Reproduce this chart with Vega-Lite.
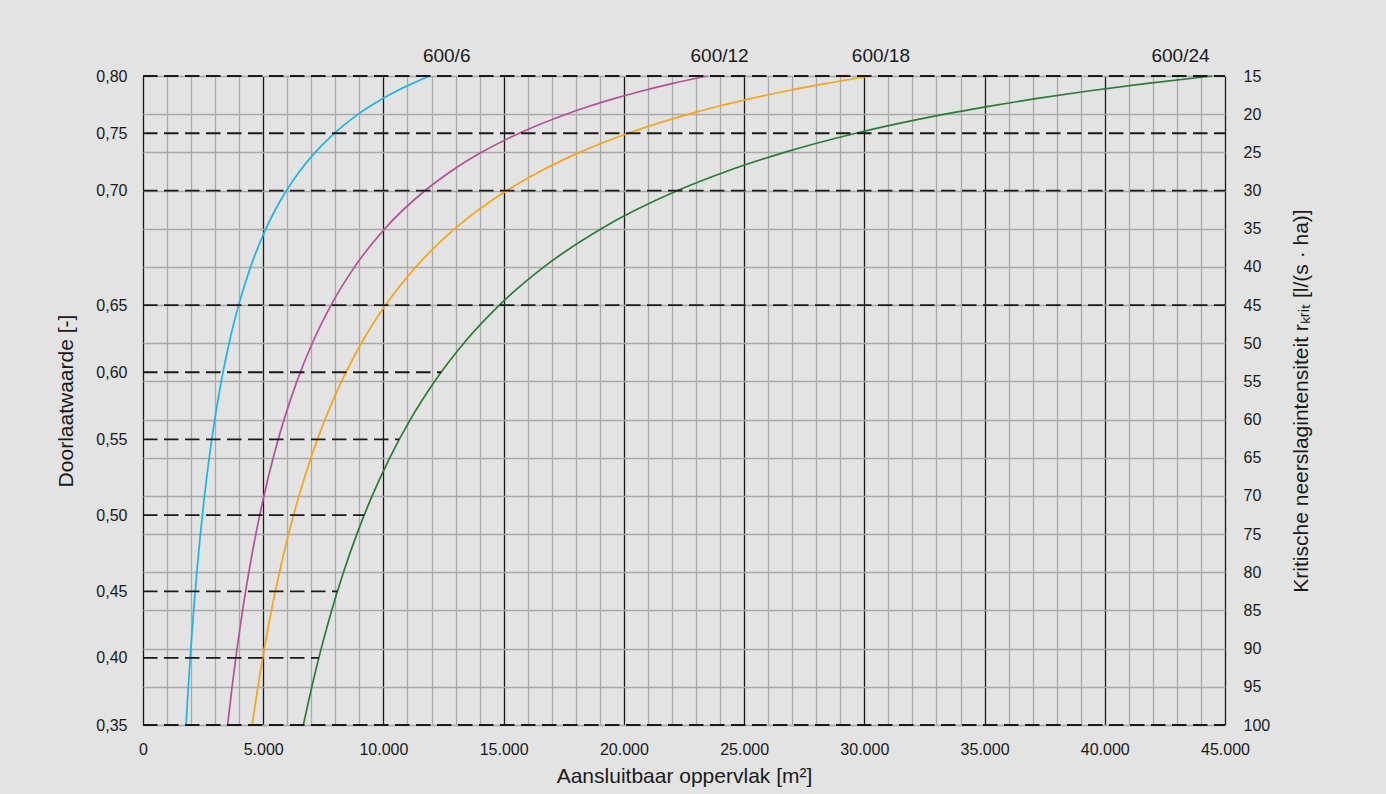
{
  "$schema": "https://vega.github.io/schema/vega-lite/v6.json",
  "width": 1082,
  "height": 649,
  "autosize": {"type": "none"},
  "padding": {"left": 143, "top": 76, "right": 161, "bottom": 69},
  "background": "#e2e3e2",
  "config": {
    "view": {"stroke": null},
    "font": "Liberation Sans",
    "axis": {
      "labelFont": "Liberation Sans",
      "titleFont": "Liberation Sans",
      "labelColor": "#1a1a1a",
      "titleColor": "#1a1a1a",
      "labelFontSize": 16,
      "titleFontSize": 21,
      "titleFontWeight": "normal",
      "domain": false,
      "ticks": false,
      "tickCount": 200
    }
  },
  "datasets": {
    "levels": [
      {"d": "0,80", "r": 15, "start": 0, "end": 45000},
      {"d": "0,75", "r": 22.5, "start": 0, "end": 45000},
      {"d": "0,70", "r": 30, "start": 0, "end": 45000},
      {"d": "0,65", "r": 45, "start": 0, "end": 45000},
      {"d": "0,60", "r": 53.8, "start": 0, "end": 12400},
      {"d": "0,55", "r": 62.6, "start": 0, "end": 10650},
      {"d": "0,50", "r": 72.5, "start": 0, "end": 9200},
      {"d": "0,45", "r": 82.5, "start": 0, "end": 8090},
      {"d": "0,40", "r": 91.2, "start": 0, "end": 7310},
      {"d": "0,35", "r": 100, "start": 0, "end": 45000}
    ],
    "labels": [
      {"serie": "600/6", "r": 15, "area": 12630},
      {"serie": "600/12", "r": 15, "area": 23980},
      {"serie": "600/18", "r": 15, "area": 30690},
      {"serie": "600/24", "r": 15, "area": 43150}
    ],
    "curves": [
      {"serie": "600/6", "r": 15, "area": 11933},
      {"serie": "600/6", "r": 16, "area": 11188},
      {"serie": "600/6", "r": 17, "area": 10529},
      {"serie": "600/6", "r": 18, "area": 9944},
      {"serie": "600/6", "r": 19, "area": 9421},
      {"serie": "600/6", "r": 20, "area": 8950},
      {"serie": "600/6", "r": 22.5, "area": 7956},
      {"serie": "600/6", "r": 25, "area": 7160},
      {"serie": "600/6", "r": 27.5, "area": 6509},
      {"serie": "600/6", "r": 30, "area": 5967},
      {"serie": "600/6", "r": 35, "area": 5114},
      {"serie": "600/6", "r": 40, "area": 4475},
      {"serie": "600/6", "r": 45, "area": 3978},
      {"serie": "600/6", "r": 50, "area": 3580},
      {"serie": "600/6", "r": 55, "area": 3255},
      {"serie": "600/6", "r": 60, "area": 2983},
      {"serie": "600/6", "r": 65, "area": 2754},
      {"serie": "600/6", "r": 70, "area": 2557},
      {"serie": "600/6", "r": 75, "area": 2387},
      {"serie": "600/6", "r": 80, "area": 2238},
      {"serie": "600/6", "r": 85, "area": 2106},
      {"serie": "600/6", "r": 90, "area": 1989},
      {"serie": "600/6", "r": 95, "area": 1884},
      {"serie": "600/6", "r": 100, "area": 1790},
      {"serie": "600/12", "r": 15, "area": 23467},
      {"serie": "600/12", "r": 16, "area": 22000},
      {"serie": "600/12", "r": 17, "area": 20706},
      {"serie": "600/12", "r": 18, "area": 19556},
      {"serie": "600/12", "r": 19, "area": 18526},
      {"serie": "600/12", "r": 20, "area": 17600},
      {"serie": "600/12", "r": 22.5, "area": 15644},
      {"serie": "600/12", "r": 25, "area": 14080},
      {"serie": "600/12", "r": 27.5, "area": 12800},
      {"serie": "600/12", "r": 30, "area": 11733},
      {"serie": "600/12", "r": 35, "area": 10057},
      {"serie": "600/12", "r": 40, "area": 8800},
      {"serie": "600/12", "r": 45, "area": 7822},
      {"serie": "600/12", "r": 50, "area": 7040},
      {"serie": "600/12", "r": 55, "area": 6400},
      {"serie": "600/12", "r": 60, "area": 5867},
      {"serie": "600/12", "r": 65, "area": 5415},
      {"serie": "600/12", "r": 70, "area": 5029},
      {"serie": "600/12", "r": 75, "area": 4693},
      {"serie": "600/12", "r": 80, "area": 4400},
      {"serie": "600/12", "r": 85, "area": 4141},
      {"serie": "600/12", "r": 90, "area": 3911},
      {"serie": "600/12", "r": 95, "area": 3705},
      {"serie": "600/12", "r": 100, "area": 3520},
      {"serie": "600/18", "r": 15, "area": 30267},
      {"serie": "600/18", "r": 16, "area": 28375},
      {"serie": "600/18", "r": 17, "area": 26706},
      {"serie": "600/18", "r": 18, "area": 25222},
      {"serie": "600/18", "r": 19, "area": 23895},
      {"serie": "600/18", "r": 20, "area": 22700},
      {"serie": "600/18", "r": 22.5, "area": 20178},
      {"serie": "600/18", "r": 25, "area": 18160},
      {"serie": "600/18", "r": 27.5, "area": 16509},
      {"serie": "600/18", "r": 30, "area": 15133},
      {"serie": "600/18", "r": 35, "area": 12971},
      {"serie": "600/18", "r": 40, "area": 11350},
      {"serie": "600/18", "r": 45, "area": 10089},
      {"serie": "600/18", "r": 50, "area": 9080},
      {"serie": "600/18", "r": 55, "area": 8255},
      {"serie": "600/18", "r": 60, "area": 7567},
      {"serie": "600/18", "r": 65, "area": 6985},
      {"serie": "600/18", "r": 70, "area": 6486},
      {"serie": "600/18", "r": 75, "area": 6053},
      {"serie": "600/18", "r": 80, "area": 5675},
      {"serie": "600/18", "r": 85, "area": 5341},
      {"serie": "600/18", "r": 90, "area": 5044},
      {"serie": "600/18", "r": 95, "area": 4779},
      {"serie": "600/18", "r": 100, "area": 4540},
      {"serie": "600/24", "r": 15, "area": 44467},
      {"serie": "600/24", "r": 16, "area": 41688},
      {"serie": "600/24", "r": 17, "area": 39235},
      {"serie": "600/24", "r": 18, "area": 37056},
      {"serie": "600/24", "r": 19, "area": 35105},
      {"serie": "600/24", "r": 20, "area": 33350},
      {"serie": "600/24", "r": 22.5, "area": 29644},
      {"serie": "600/24", "r": 25, "area": 26680},
      {"serie": "600/24", "r": 27.5, "area": 24255},
      {"serie": "600/24", "r": 30, "area": 22233},
      {"serie": "600/24", "r": 35, "area": 19057},
      {"serie": "600/24", "r": 40, "area": 16675},
      {"serie": "600/24", "r": 45, "area": 14822},
      {"serie": "600/24", "r": 50, "area": 13340},
      {"serie": "600/24", "r": 55, "area": 12127},
      {"serie": "600/24", "r": 60, "area": 11117},
      {"serie": "600/24", "r": 65, "area": 10262},
      {"serie": "600/24", "r": 70, "area": 9529},
      {"serie": "600/24", "r": 75, "area": 8893},
      {"serie": "600/24", "r": 80, "area": 8338},
      {"serie": "600/24", "r": 85, "area": 7847},
      {"serie": "600/24", "r": 90, "area": 7411},
      {"serie": "600/24", "r": 95, "area": 7021},
      {"serie": "600/24", "r": 100, "area": 6670}
    ]
  },
  "layer": [
    {
      "data": {"name": "curves"},
      "mark": {"type": "line", "strokeWidth": 1.7, "interpolate": "monotone"},
      "encoding": {
        "x": {
          "field": "area",
          "type": "quantitative",
          "scale": {"domain": [0, 45000], "nice": false, "zero": false},
          "axis": {
            "orient": "bottom",
            "values": [0, 1000, 2000, 3000, 4000, 5000, 6000, 7000, 8000, 9000, 10000, 11000, 12000, 13000, 14000, 15000, 16000, 17000, 18000, 19000, 20000, 21000, 22000, 23000, 24000, 25000, 26000, 27000, 28000, 29000, 30000, 31000, 32000, 33000, 34000, 35000, 36000, 37000, 38000, 39000, 40000, 41000, 42000, 43000, 44000, 45000],
            "tickCount": 200,
            "labelExpr": "datum.value % 5000 === 0 ? replace(format(datum.value, ','), ',', '.') : ''",
            "labelPadding": 16,
            "labelOverlap": false,
            "labelFlush": false,
            "labelBound": false,
            "grid": true,
            "gridColor": {"condition": {"test": "datum.value % 5000 === 0", "value": "#1a1a1a"}, "value": "#a9a9a9"},
            "gridWidth": 1.3,
            "title": "Aansluitbaar oppervlak [m²]",
            "titlePadding": 8
          }
        },
        "y": {
          "field": "r",
          "type": "quantitative",
          "scale": {"domain": [15, 100], "reverse": true, "nice": false, "zero": false},
          "axis": {
            "orient": "right",
            "values": [15, 20, 25, 30, 35, 40, 45, 50, 55, 60, 65, 70, 75, 80, 85, 90, 95, 100],
            "tickCount": 200,
            "format": "d",
            "grid": true,
            "gridColor": "#a9a9a9",
            "gridWidth": 1.3,
            "labelPadding": 18,
            "labelAlign": "left",
            "labelBaseline": "middle",
            "labelOverlap": false,
            "labelFlush": false,
            "labelBound": false,
            "title": "Kritische neerslagintensiteit rₖᵣᵢₜ [l/(s · ha)]",
            "titleAngle": 270,
            "titleBaseline": "top",
            "titlePadding": 21
          }
        },
        "color": {
          "field": "serie",
          "type": "nominal",
          "scale": {"domain": ["600/6", "600/12", "600/18", "600/24"], "range": ["#1db4e6", "#b5509c", "#f5a41c", "#2a7d34"]},
          "legend": null
        },
        "order": {"field": "area", "type": "quantitative"}
      }
    },
    {
      "data": {"name": "levels"},
      "mark": {"type": "rule", "color": "#1a1a1a", "strokeWidth": 1.8, "strokeDash": [14.5, 6.5]},
      "encoding": {
        "x": {"field": "start", "type": "quantitative"},
        "x2": {"field": "end"},
        "y": {
          "field": "r",
          "type": "quantitative",
          "scale": {"domain": [15, 100], "reverse": true, "nice": false, "zero": false},
          "axis": {
            "orient": "left",
            "values": [15, 22.5, 30, 45, 53.8, 62.6, 72.5, 82.5, 91.2, 100],
            "tickCount": 200,
            "labelExpr": "datum.value == 15 ? '0,80' : datum.value == 22.5 ? '0,75' : datum.value == 30 ? '0,70' : datum.value == 45 ? '0,65' : datum.value == 53.8 ? '0,60' : datum.value == 62.6 ? '0,55' : datum.value == 72.5 ? '0,50' : datum.value == 82.5 ? '0,45' : datum.value == 91.2 ? '0,40' : '0,35'",
            "labelPadding": 16,
            "labelBaseline": "middle",
            "labelOverlap": false,
            "labelFlush": false,
            "labelBound": false,
            "grid": false,
            "title": "Doorlaatwaarde [-]",
            "titlePadding": 19
          }
        }
      }
    },
    {
      "data": {"name": "labels"},
      "mark": {"type": "text", "fontSize": 19, "dy": -13.6, "baseline": "alphabetic", "align": "center", "color": "#1a1a1a", "font": "Liberation Sans"},
      "encoding": {
        "x": {"field": "area", "type": "quantitative"},
        "y": {"field": "r", "type": "quantitative", "scale": {"domain": [15, 100], "reverse": true, "nice": false, "zero": false}, "axis": null},
        "text": {"field": "serie", "type": "nominal"}
      }
    }
  ],
  "resolve": {"scale": {"y": "independent"}}
}
